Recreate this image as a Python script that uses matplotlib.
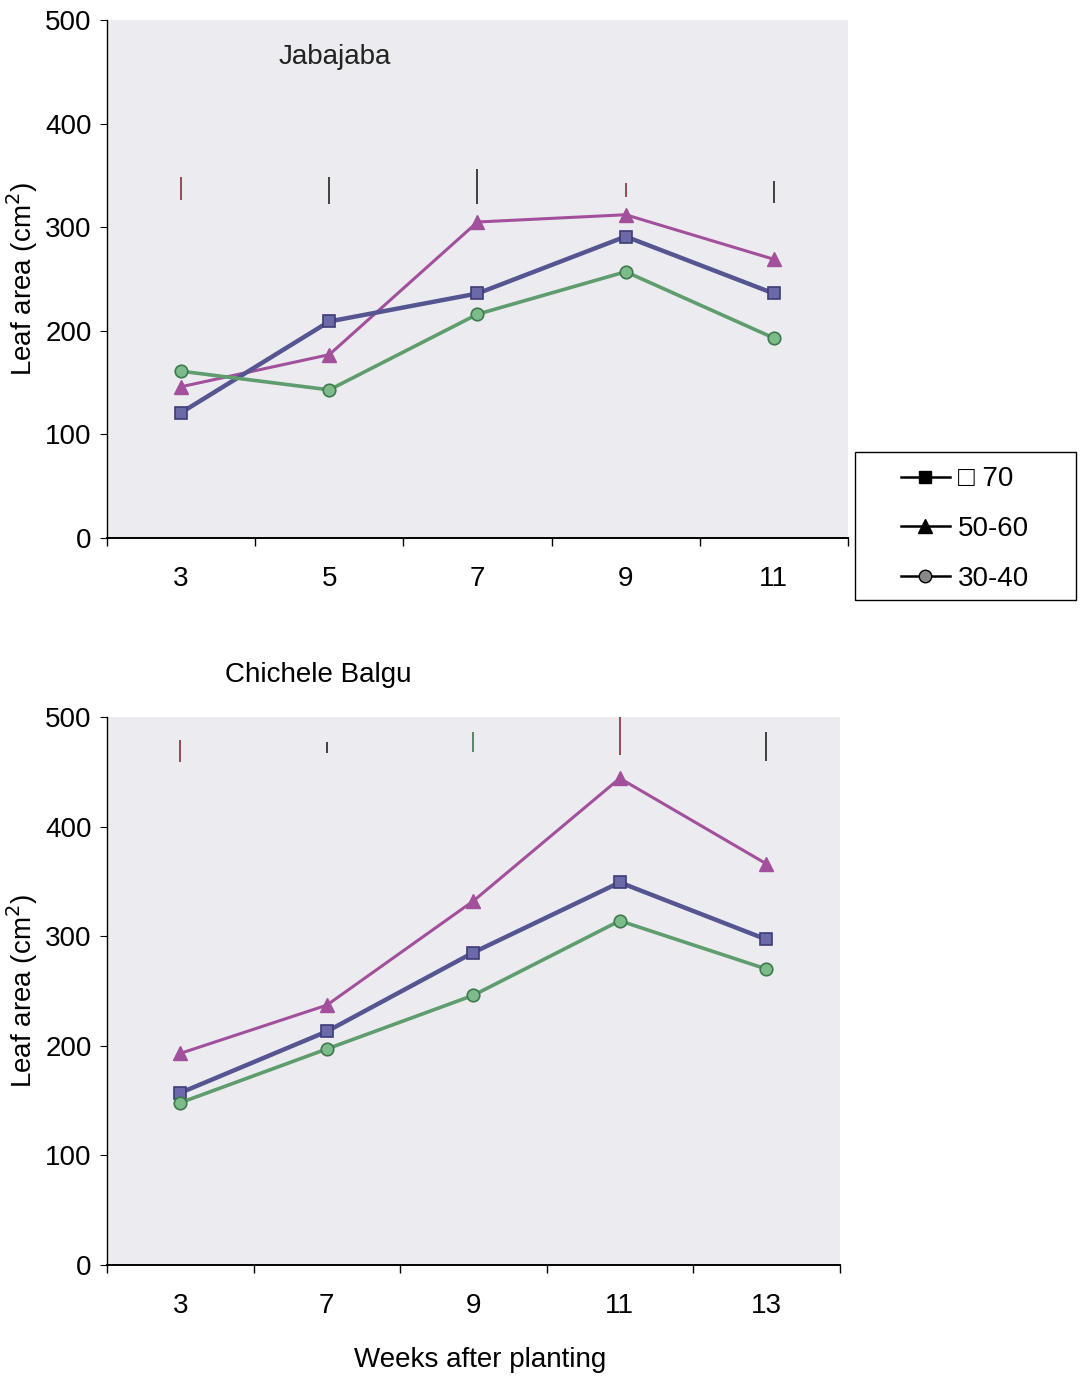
import matplotlib
matplotlib.use("Agg")
import matplotlib.pyplot as plt
from matplotlib.lines import Line2D
from matplotlib.patches import Rectangle

plt.rcParams['font.family'] = ['Liberation Sans', 'DejaVu Sans']

# ---- data ----
weeks_top = ["3", "5", "7", "9", "11"]
top_70 = [121, 209, 236, 291, 236]
top_5060 = [146, 177, 305, 312, 269]
top_3040 = [161, 143, 216, 257, 193]
top_bar_center = [337, 335, 339, 336, 334]
top_bar_half = [11, 13, 17, 7, 11]

weeks_bot = ["3", "7", "9", "11", "13"]
bot_70 = [157, 213, 285, 349, 297]
bot_5060 = [193, 237, 332, 444, 366]
bot_3040 = [148, 197, 246, 314, 270]
bot_bar_center = [469, 472, 477, 485, 473]
bot_bar_half = [10, 5, 9, 20, 13]

legend_labels = ["\u25a1 70", "50-60", "30-40"]

# ---- styles ----
c_blue = "#555591"
c_mag = "#a2509c"
c_green = "#5f9c6e"
bg = "#ececf0"
top_bar_colors = ["#8e3b4c", "#333333", "#333333", "#8e3b4c", "#333333"]
bot_bar_colors = ["#8e3b4c", "#333333", "#4f7d5c", "#8e3b4c", "#333333"]
FS = 20
W, H = 1082, 1376

fig = plt.figure(figsize=(10.82, 13.76), dpi=100)
ax1 = fig.add_axes([0.0989, 0.609, 0.6848, 0.3765])
ax2 = fig.add_axes([0.0989, 0.0807, 0.677, 0.3983])


def draw(ax, cats, s70, s5060, s3040, bc, bh, bcol):
    x = list(range(len(cats)))
    ax.set_facecolor(bg)
    ax.plot(x, s5060, color=c_mag, lw=2.2, marker='^', ms=10,
            mfc=c_mag, mec=c_mag, zorder=3)
    ax.plot(x, s70, color=c_blue, lw=3.2, marker='s', ms=9,
            mfc="#6a6aa8", mec="#3c3c78", mew=1.2, zorder=4)
    ax.plot(x, s3040, color=c_green, lw=2.6, marker='o', ms=9,
            mfc="#7dbb8a", mec="#3d7a4c", mew=1.2, zorder=5)
    for i in x:
        ax.errorbar([i], [bc[i]], yerr=[bh[i]], fmt='none',
                    ecolor=bcol[i], elinewidth=1.3, capsize=0, zorder=2)
    ax.set_xlim(-0.5, len(cats) - 0.5)
    ax.set_ylim(0, 500)
    ax.set_yticks([0, 100, 200, 300, 400, 500])
    ax.set_xticks(x)
    ax.set_xticklabels(cats)
    ax.set_xticks([i - 0.5 for i in range(len(cats) + 1)], minor=True)
    ax.tick_params(axis='x', which='major', length=0, pad=20, labelsize=FS)
    ax.tick_params(axis='x', which='minor', length=6, direction='out', width=1)
    ax.tick_params(axis='y', length=5, direction='out', labelsize=FS, pad=6)
    for s in ['top', 'right']:
        ax.spines[s].set_visible(False)
    ax.spines['left'].set_linewidth(1.0)
    ax.spines['bottom'].set_linewidth(1.4)
    ax.set_ylabel("Leaf area (cm$^2$)", fontsize=FS, labelpad=4)


draw(ax1, weeks_top, top_70, top_5060, top_3040, top_bar_center, top_bar_half, top_bar_colors)
draw(ax2, weeks_bot, bot_70, bot_5060, bot_3040, bot_bar_center, bot_bar_half, bot_bar_colors)

fig.text(335 / W, 1 - 57 / H, "Jabajaba", fontsize=FS,
         ha='center', va='center', color="#222222")
fig.text(318 / W, 1 - 675 / H, "Chichele Balgu", fontsize=FS,
         ha='center', va='center')
fig.text(480 / W, 1 - 1360 / H, "Weeks after planting", fontsize=FS,
         ha='center', va='center')

# legend box
fig.patches.append(Rectangle((855 / W, 1 - 600 / H), 221 / W, 148 / H,
                             transform=fig.transFigure, fill=False,
                             edgecolor='black', lw=1.0))
handles = [
    Line2D([], [], color='black', lw=1.8, marker='s', ms=9, mfc='black', mec='black'),
    Line2D([], [], color='black', lw=1.8, marker='^', ms=10, mfc='black', mec='black'),
    Line2D([], [], color='black', lw=1.8, marker='o', ms=9, mfc='#888888', mec='black'),
]
leg = fig.legend(handles, legend_labels, loc='center left',
                 bbox_to_anchor=(901 / W, 1 - 529 / H),
                 fontsize=FS, frameon=False,
                 handlelength=1.75, labelspacing=0.85,
                 borderpad=0, handletextpad=0.3, borderaxespad=0)

fig.savefig("out.png", dpi=100, facecolor='white')
